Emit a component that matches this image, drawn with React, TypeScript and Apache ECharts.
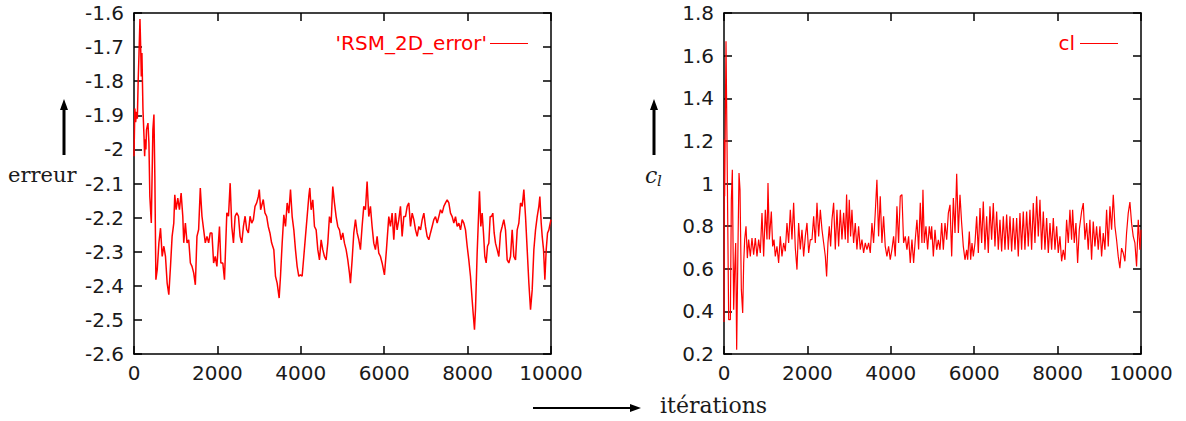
import React, { useEffect, useRef } from "react";
import * as echarts from "echarts";

const xTicks = [0, 2000, 4000, 6000, 8000, 10000];

const leftIter = [0, 20, 40, 60, 80, 100, 120, 143, 160, 175, 190, 215, 240, 255, 270, 285, 300, 335, 358, 380, 415, 453, 478, 500, 525, 557, 597, 636, 676, 716, 755, 795, 835, 875, 914, 954, 978, 1010, 1050, 1090, 1130, 1170, 1193, 1232, 1272, 1312, 1352, 1391, 1431, 1471, 1510, 1550, 1590, 1630, 1670, 1710, 1750, 1790, 1829, 1869, 1909, 1948, 1988, 2050, 2083, 2130, 2170, 2226, 2266, 2306, 2345, 2385, 2425, 2465, 2505, 2544, 2584, 2624, 2664, 2703, 2743, 2783, 2823, 2862, 2902, 2942, 2982, 3005, 3037, 3100, 3140, 3180, 3220, 3260, 3300, 3353, 3393, 3433, 3481, 3513, 3553, 3593, 3633, 3673, 3713, 3753, 3793, 3833, 3872, 3912, 3952, 3992, 4032, 4072, 4112, 4152, 4192, 4216, 4248, 4288, 4328, 4368, 4408, 4448, 4488, 4527, 4567, 4607, 4647, 4687, 4727, 4767, 4807, 4847, 4887, 4927, 4967, 5007, 5047, 5087, 5127, 5167, 5191, 5231, 5271, 5311, 5351, 5391, 5430, 5470, 5510, 5550, 5590, 5630, 5670, 5710, 5750, 5790, 5830, 5870, 5910, 5950, 6006, 6054, 6110, 6150, 6190, 6230, 6270, 6310, 6350, 6390, 6430, 6470, 6511, 6551, 6591, 6631, 6671, 6711, 6751, 6791, 6831, 6871, 6911, 6951, 6990, 7030, 7070, 7110, 7150, 7190, 7230, 7270, 7310, 7350, 7390, 7430, 7470, 7510, 7550, 7590, 7630, 7670, 7710, 7750, 7790, 7830, 7870, 7910, 7950, 7990, 8029, 8069, 8109, 8133, 8165, 8189, 8229, 8253, 8285, 8317, 8349, 8381, 8413, 8445, 8477, 8509, 8541, 8573, 8605, 8637, 8669, 8709, 8749, 8789, 8829, 8869, 8909, 8949, 8989, 9029, 9069, 9109, 9149, 9189, 9229, 9269, 9309, 9349, 9389, 9429, 9469, 9509, 9549, 9589, 9629, 9669, 9709, 9733, 9765, 9789, 9821, 9853, 9885, 9917, 9949, 9981, 10000];

const leftErr = [-2.02, -1.88, -1.92, -1.89, -1.91, -1.8, -1.72, -1.618, -1.7, -1.786, -1.717, -1.883, -1.962, -2.02, -1.97, -2.0, -1.942, -1.923, -1.981, -2.138, -2.216, -1.942, -1.898, -2.079, -2.382, -2.353, -2.274, -2.231, -2.314, -2.284, -2.314, -2.392, -2.426, -2.343, -2.255, -2.216, -2.133, -2.177, -2.143, -2.177, -2.128, -2.196, -2.274, -2.216, -2.274, -2.265, -2.333, -2.343, -2.362, -2.397, -2.255, -2.235, -2.113, -2.196, -2.235, -2.274, -2.255, -2.274, -2.245, -2.245, -2.333, -2.314, -2.343, -2.226, -2.333, -2.333, -2.382, -2.186, -2.196, -2.099, -2.226, -2.274, -2.196, -2.186, -2.196, -2.255, -2.274, -2.226, -2.196, -2.235, -2.245, -2.196, -2.216, -2.206, -2.167, -2.157, -2.138, -2.118, -2.177, -2.147, -2.186, -2.196, -2.226, -2.245, -2.274, -2.294, -2.372, -2.392, -2.436, -2.372, -2.275, -2.192, -2.226, -2.157, -2.187, -2.118, -2.197, -2.236, -2.294, -2.343, -2.372, -2.368, -2.372, -2.314, -2.255, -2.197, -2.138, -2.113, -2.177, -2.148, -2.226, -2.236, -2.294, -2.324, -2.265, -2.294, -2.314, -2.324, -2.275, -2.197, -2.216, -2.109, -2.157, -2.197, -2.226, -2.236, -2.265, -2.245, -2.275, -2.294, -2.324, -2.363, -2.392, -2.324, -2.245, -2.206, -2.245, -2.265, -2.294, -2.226, -2.167, -2.177, -2.094, -2.197, -2.167, -2.226, -2.275, -2.294, -2.255, -2.304, -2.314, -2.333, -2.368, -2.294, -2.197, -2.226, -2.187, -2.265, -2.187, -2.236, -2.206, -2.167, -2.255, -2.197, -2.197, -2.167, -2.157, -2.226, -2.187, -2.206, -2.236, -2.255, -2.226, -2.236, -2.206, -2.187, -2.226, -2.255, -2.265, -2.245, -2.226, -2.206, -2.197, -2.216, -2.197, -2.177, -2.187, -2.167, -2.157, -2.148, -2.157, -2.187, -2.197, -2.216, -2.197, -2.226, -2.216, -2.236, -2.206, -2.216, -2.236, -2.284, -2.324, -2.372, -2.441, -2.48, -2.529, -2.47, -2.304, -2.226, -2.123, -2.226, -2.187, -2.245, -2.314, -2.333, -2.284, -2.275, -2.197, -2.197, -2.187, -2.245, -2.275, -2.294, -2.314, -2.245, -2.226, -2.206, -2.236, -2.324, -2.333, -2.314, -2.236, -2.314, -2.324, -2.236, -2.216, -2.157, -2.167, -2.118, -2.197, -2.294, -2.392, -2.47, -2.412, -2.294, -2.236, -2.197, -2.167, -2.138, -2.216, -2.255, -2.294, -2.382, -2.294, -2.245, -2.236, -2.216, -2.206];

const rightIter = [0, 8, 16, 48, 72, 112, 152, 176, 200, 232, 256, 280, 304, 336, 360, 384, 416, 448, 472, 496, 528, 560, 591, 631, 671, 711, 751, 791, 831, 871, 911, 951, 991, 1031, 1055, 1087, 1135, 1167, 1199, 1230, 1270, 1310, 1350, 1390, 1430, 1470, 1510, 1550, 1590, 1630, 1670, 1710, 1750, 1790, 1830, 1870, 1910, 1950, 1990, 2030, 2070, 2110, 2150, 2190, 2230, 2270, 2310, 2350, 2390, 2430, 2461, 2493, 2525, 2557, 2589, 2629, 2669, 2709, 2749, 2789, 2829, 2869, 2909, 2940, 2972, 3004, 3036, 3068, 3108, 3148, 3188, 3228, 3268, 3308, 3348, 3388, 3428, 3468, 3508, 3548, 3587, 3627, 3667, 3707, 3747, 3787, 3827, 3867, 3907, 3947, 3987, 4027, 4067, 4107, 4147, 4187, 4227, 4267, 4307, 4347, 4387, 4427, 4467, 4507, 4547, 4587, 4627, 4667, 4707, 4747, 4771, 4803, 4843, 4883, 4923, 4963, 4980, 5020, 5060, 5100, 5140, 5180, 5220, 5260, 5300, 5340, 5380, 5420, 5460, 5500, 5540, 5580, 5620, 5659, 5699, 5739, 5779, 5819, 5843, 5883, 5915, 5947, 5979, 6019, 6059, 6099, 6139, 6179, 6218, 6258, 6298, 6338, 6378, 6418, 6458, 6498, 6538, 6578, 6618, 6658, 6698, 6738, 6778, 6818, 6858, 6898, 6938, 6978, 7018, 7057, 7097, 7137, 7177, 7217, 7257, 7297, 7337, 7377, 7417, 7457, 7497, 7537, 7577, 7617, 7657, 7697, 7737, 7777, 7817, 7857, 7897, 7937, 7977, 8016, 8056, 8096, 8136, 8176, 8216, 8256, 8296, 8336, 8360, 8400, 8440, 8480, 8520, 8576, 8616, 8656, 8696, 8735, 8775, 8815, 8855, 8895, 8935, 8975, 9015, 9055, 9095, 9135, 9175, 9215, 9255, 9295, 9335, 9375, 9414, 9454, 9494, 9534, 9574, 9614, 9654, 9694, 9734, 9774, 9814, 9854, 9894, 9934, 9974, 10000];

const rightCl = [0.35, 1.206, 0.94, 1.667, 1.19, 0.361, 0.361, 0.924, 1.065, 0.408, 0.596, 0.721, 0.22, 0.721, 1.049, 0.971, 0.502, 0.392, 0.627, 0.737, 0.799, 0.65, 0.737, 0.658, 0.744, 0.666, 0.744, 0.658, 0.737, 0.674, 0.862, 0.658, 0.877, 0.737, 1.002, 0.737, 0.869, 0.705, 0.737, 0.658, 0.705, 0.627, 0.752, 0.658, 0.721, 0.682, 0.815, 0.721, 0.877, 0.737, 0.909, 0.697, 0.596, 0.815, 0.69, 0.783, 0.658, 0.752, 0.815, 0.674, 0.737, 0.737, 0.846, 0.721, 0.909, 0.752, 0.877, 0.783, 0.721, 0.658, 0.564, 0.721, 0.799, 0.705, 0.83, 0.909, 0.69, 0.877, 0.705, 0.877, 0.737, 0.862, 0.737, 0.948, 0.721, 0.924, 0.752, 0.877, 0.721, 0.815, 0.69, 0.799, 0.69, 0.737, 0.674, 0.721, 0.69, 0.721, 0.674, 0.815, 0.721, 0.862, 1.018, 0.752, 0.94, 0.721, 0.846, 0.705, 0.658, 0.705, 0.643, 0.69, 0.752, 0.658, 0.893, 0.721, 0.94, 0.948, 0.721, 0.752, 0.69, 0.752, 0.627, 0.737, 0.627, 0.737, 0.83, 0.69, 0.909, 0.721, 0.971, 0.721, 0.799, 0.69, 0.799, 0.737, 0.799, 0.658, 0.783, 0.689, 0.736, 0.689, 0.814, 0.689, 0.814, 0.736, 0.861, 0.9, 0.658, 0.932, 0.768, 1.046, 0.768, 0.947, 0.814, 0.705, 0.642, 0.689, 0.642, 0.775, 0.642, 0.721, 0.658, 0.721, 0.846, 0.674, 0.885, 0.721, 0.916, 0.689, 0.846, 0.674, 0.893, 0.736, 0.908, 0.705, 0.869, 0.689, 0.83, 0.681, 0.846, 0.689, 0.854, 0.689, 0.846, 0.681, 0.838, 0.689, 0.838, 0.658, 0.861, 0.689, 0.869, 0.689, 0.869, 0.705, 0.877, 0.689, 0.908, 0.721, 0.94, 0.752, 0.924, 0.689, 0.869, 0.689, 0.838, 0.674, 0.814, 0.689, 0.838, 0.689, 0.799, 0.674, 0.752, 0.635, 0.689, 0.642, 0.83, 0.721, 0.877, 0.736, 0.877, 0.721, 0.814, 0.627, 0.783, 0.869, 0.908, 0.736, 0.814, 0.689, 0.83, 0.642, 0.822, 0.705, 0.799, 0.689, 0.799, 0.658, 0.768, 0.689, 0.877, 0.705, 0.893, 0.783, 0.947, 0.799, 0.736, 0.658, 0.603, 0.697, 0.674, 0.635, 0.768, 0.861, 0.913, 0.814, 0.752, 0.721, 0.611, 0.83, 0.689, 0.783];

const leftName = "'RSM_2D_error'";
const rightName = "cl";

const SANS = "DejaVu Sans";
const SERIF = "DejaVu Serif";
const TXT = "#1a1a1a";

function makeX(gridIndex: number, top: boolean) {
  return {
    type: "value",
    gridIndex,
    position: top ? "top" : "bottom",
    min: 0,
    max: 10000,
    interval: 2000,
    axisLine: { show: true, onZero: false, lineStyle: { color: "#000", width: 1.5 } },
    axisTick: { show: true, inside: true, length: 8, lineStyle: { color: "#000", width: 1.5 } },
    axisLabel: {
      show: !top,
      margin: 9,
      fontFamily: SANS,
      fontSize: 20,
      color: TXT,
      formatter: (v: number) => (xTicks.includes(v) ? String(v) : ""),
    },
    splitLine: { show: false },
  };
}

function makeY(gridIndex: number, right: boolean, min: number, max: number, interval: number) {
  return {
    type: "value",
    gridIndex,
    position: right ? "right" : "left",
    min,
    max,
    interval,
    axisLine: { show: true, onZero: false, lineStyle: { color: "#000", width: 1.5 } },
    axisTick: { show: true, inside: true, length: 8, lineStyle: { color: "#000", width: 1.5 } },
    axisLabel: {
      show: !right,
      margin: 10,
      fontFamily: SANS,
      fontSize: 20,
      color: TXT,
      formatter: (v: number) => String(Math.round(v * 10) / 10),
    },
    splitLine: { show: false },
  };
}

export default function App() {
  const ref = useRef<HTMLDivElement>(null);
  useEffect(() => {
    if (!ref.current) return;
    const chart = echarts.init(ref.current, undefined, { renderer: "svg" });
    const leftData = leftIter.map((x, i) => [x, leftErr[i]]);
    const rightData = rightIter.map((x, i) => [x, rightCl[i]]);
    chart.setOption({
      animation: false,
      backgroundColor: "#fff",
      grid: [
        { left: 134, top: 13, width: 417, height: 341 },
        { left: 724, top: 13, width: 417, height: 341 },
      ],
      xAxis: [makeX(0, false), makeX(0, true), makeX(1, false), makeX(1, true)],
      yAxis: [
        makeY(0, false, -2.6, -1.6, 0.1),
        makeY(0, true, -2.6, -1.6, 0.1),
        makeY(1, false, 0.2, 1.8, 0.2),
        makeY(1, true, 0.2, 1.8, 0.2),
      ],
      series: [
        {
          type: "line",
          name: leftName,
          xAxisIndex: 0,
          yAxisIndex: 0,
          data: leftData,
          showSymbol: false,
          symbol: "none",
          lineStyle: { color: "#ff0000", width: 1.5 },
        },
        {
          type: "line",
          name: rightName,
          xAxisIndex: 2,
          yAxisIndex: 2,
          data: rightData,
          showSymbol: false,
          symbol: "none",
          lineStyle: { color: "#ff0000", width: 1.2 },
        },
      ],
      graphic: [
        {
          type: "text",
          x: 487,
          y: 43,
          style: { text: leftName, fill: "#ff0000", font: `20px "${SANS}"`, align: "right", verticalAlign: "middle" },
        },
        { type: "line", shape: { x1: 490, y1: 43.5, x2: 528, y2: 43.5 }, style: { stroke: "#ff0000", lineWidth: 1.2 } },
        {
          type: "text",
          x: 1075,
          y: 43,
          style: { text: rightName, fill: "#ff0000", font: `20px "${SANS}"`, align: "right", verticalAlign: "middle" },
        },
        { type: "line", shape: { x1: 1080, y1: 43.5, x2: 1118, y2: 43.5 }, style: { stroke: "#ff0000", lineWidth: 1.2 } },
        { type: "line", shape: { x1: 64, y1: 155, x2: 64, y2: 108 }, style: { stroke: "#000", lineWidth: 3 } },
        { type: "polygon", shape: { points: [[60, 110], [68, 110], [64, 99]] }, style: { fill: "#000" } },
        {
          type: "text",
          x: 8,
          y: 175,
          style: { text: "erreur", fill: TXT, font: `21px "${SERIF}"`, align: "left", verticalAlign: "middle" },
        },
        { type: "line", shape: { x1: 654, y1: 155, x2: 654, y2: 108 }, style: { stroke: "#000", lineWidth: 3 } },
        { type: "polygon", shape: { points: [[650, 110], [658, 110], [654, 99]] }, style: { fill: "#000" } },
        {
          type: "text",
          x: 645,
          y: 175,
          style: { text: "c", fill: TXT, font: `italic 22px "${SERIF}"`, align: "left", verticalAlign: "middle" },
        },
        {
          type: "text",
          x: 657,
          y: 181,
          style: { text: "l", fill: TXT, font: `italic 15px "${SERIF}"`, align: "left", verticalAlign: "middle" },
        },
        { type: "line", shape: { x1: 533, y1: 408, x2: 632, y2: 408 }, style: { stroke: "#000", lineWidth: 2 } },
        { type: "polygon", shape: { points: [[630, 404], [630, 412], [641, 408]] }, style: { fill: "#000" } },
        {
          type: "text",
          x: 660,
          y: 405,
          style: { text: "itérations", fill: TXT, font: `22px "${SERIF}"`, align: "left", verticalAlign: "middle" },
        },
      ],
    });
    return () => chart.dispose();
  }, []);
  return (
    <div
      ref={ref}
      style={{ position: "absolute", left: 0, top: 0, width: 1186, height: 421, background: "#fff" }}
    />
  );
}
